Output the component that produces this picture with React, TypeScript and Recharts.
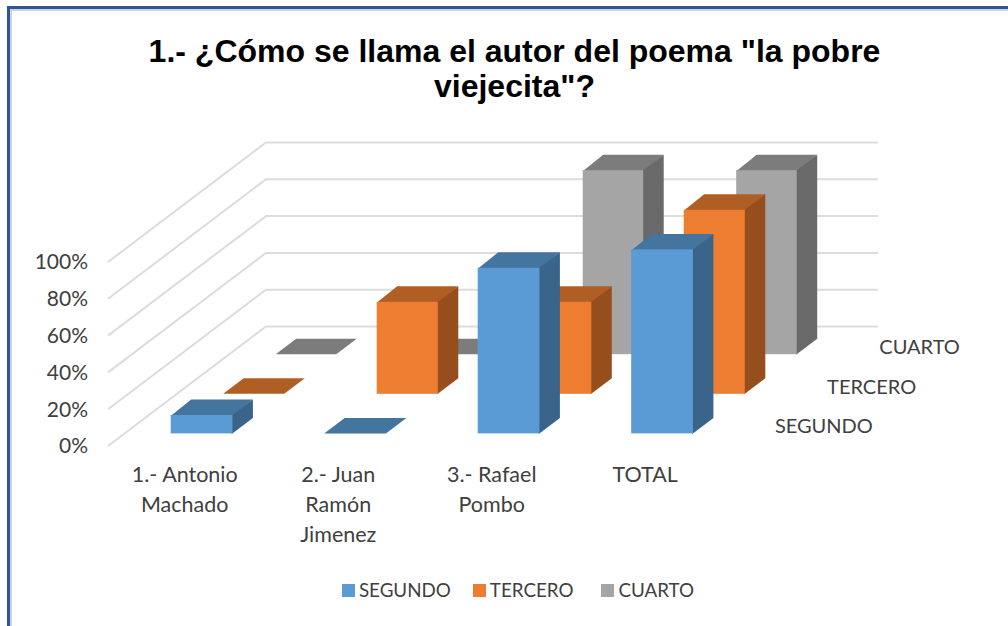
import React from "react";
import { BarChart, Bar, XAxis, YAxis, CartesianGrid, Legend } from "recharts";

const categories = ["1.- Antonio Machado", "2.- Juan Ramón Jimenez", "3.- Rafael Pombo", "TOTAL"];
const categoryLines = [["1.- Antonio", "Machado"], ["2.- Juan", "Ramón", "Jimenez"], ["3.- Rafael", "Pombo"], ["TOTAL"]];
const segundo = [10, 0, 90, 100];
const tercero = [0, 50, 50, 100];
const cuarto = [0, 0, 100, 100];
const percentTicks = [0, 20, 40, 60, 80, 100];
const seriesOrder = ["SEGUNDO", "TERCERO", "CUARTO"];
const titleLines = ['1.- ¿Cómo se llama el autor del poema "la pobre', 'viejecita"?'];

const rows = categories.map((name, i) => ({
  name,
  SEGUNDO: segundo[i],
  TERCERO: tercero[i],
  CUARTO: cuarto[i],
}));

const FONT = "Lato, 'Open Sans', sans-serif";
const TEXT = "#404040";
const STEP_X = 52.5;
const STEP_Y = 39.6;
const START_X = 16.7;
const START_Y = 12.6;
const CAP_X = 20.5;
const CAP_Y = 15.5;
const NARROW = 0.6;
const WALL_X = 158;
const WALL_Y = 119.5;
const WALL_RIGHT = 878;

const palette = {
  SEGUNDO: { front: "#5B9BD5", top: "#44759F", side: "#3A6489" },
  TERCERO: { front: "#ED7D31", top: "#B15E25", side: "#964F1C" },
  CUARTO: { front: "#A5A5A5", top: "#7C7C7C", side: "#696969" },
};

const pts = (list: number[][]) => list.map((p) => p.join(",")).join(" ");

function cuboid(depth: number, name: string) {
  const c = palette[name];
  return function Cuboid(props: any) {
    const dx = START_X + depth * STEP_X;
    const dy = START_Y + depth * STEP_Y;
    const x = props.x + dx;
    const w = props.width - depth * NARROW;
    const top = props.y - dy;
    const bottom = props.y + props.height - dy;
    const solid = props.height > 0;
    const last = props.index === categories.length - 1;
    const under = solid ? 1 : 0;
    return (
      <g>
        <polygon
          points={pts([[x, top + under], [x + CAP_X, top - CAP_Y], [x + w + CAP_X, top - CAP_Y], [x + w, top + under]])}
          fill={c.top}
        />
        {solid && (
          <polygon
            points={pts([[x + w - 1, top], [x + w, top], [x + w + CAP_X, top - CAP_Y], [x + w + CAP_X, bottom - CAP_Y], [x + w, bottom], [x + w - 1, bottom]])}
            fill={c.side}
          />
        )}
        {solid && <rect x={x} y={top} width={w} height={bottom - top} fill={c.front} />}
        {last && (
          <text x={props.x + START_X + depth * 52.2 + 127 + 16.7} y={bottom} fontFamily={FONT} fontSize={20} fill={TEXT}>
            {name}
          </text>
        )}
      </g>
    );
  };
}

const wallLine = (p: any) => (
  <polyline
    key={p.key ?? p.index ?? p.y1}
    points={pts([[p.x1, p.y1], [p.x1 + WALL_X, p.y1 - WALL_Y], [WALL_RIGHT, p.y1 - WALL_Y]])}
    fill="none"
    stroke="#DCDCDC"
    strokeWidth={2}
  />
);

const CategoryTick = (p: any) => (
  <text x={p.x} y={p.y + 28} textAnchor="middle" fontFamily={FONT} fontSize={21.5} fill={TEXT}>
    {categoryLines[p.index].map((line, i) => (
      <tspan key={line} x={p.x} dy={i === 0 ? 0 : 30}>
        {line}
      </tspan>
    ))}
  </text>
);

export default function App() {
  return (
    <div style={{ position: "absolute", left: 0, top: 0, width: 1008, height: 626, background: "#fff", overflow: "hidden" }}>
      <div style={{ position: "absolute", left: 7, top: 6, width: 1001, height: 620, boxSizing: "border-box", borderLeft: "3px solid #2F5597", borderTop: "3px solid #2F5597" }} />
      <div style={{ position: "absolute", left: 10, top: 9, width: 998, height: 617, boxSizing: "border-box", borderLeft: "2px solid #CDD2DA", borderTop: "2px solid #CDD2DA" }} />
      <div
        style={{
          position: "absolute",
          left: 0,
          width: 1029,
          top: 34,
          textAlign: "center",
          fontFamily: "'Liberation Sans', Arial, sans-serif",
          fontWeight: 700,
          fontSize: 32,
          lineHeight: "35px",
          color: "#000",
        }}
      >
        {titleLines.map((t) => (
          <div key={t}>{t}</div>
        ))}
      </div>
      <BarChart
        width={1008}
        height={626}
        data={rows}
        margin={{ top: 262, right: 286, bottom: 10, left: 28 }}
        style={{ position: "absolute", left: 0, top: 0 }}
      >
        <CartesianGrid vertical={false} horizontal={wallLine} />
        <XAxis dataKey="name" axisLine={false} tickLine={false} height={130} interval={0} tick={CategoryTick} />
        <XAxis xAxisId="tercero" dataKey="name" hide />
        <XAxis xAxisId="cuarto" dataKey="name" hide />
        <YAxis
          width={80}
          domain={[0, 100]}
          ticks={percentTicks}
          tickFormatter={(v) => `${v}%`}
          axisLine={false}
          tickLine={false}
          tickMargin={14}
          tick={{ fontFamily: FONT, fontSize: 21, fill: TEXT }}
        />
        <Bar xAxisId="cuarto" dataKey="CUARTO" fill={palette.CUARTO.front} barSize={61.7} shape={cuboid(2, "CUARTO")} isAnimationActive={false} />
        <Bar xAxisId="tercero" dataKey="TERCERO" fill={palette.TERCERO.front} barSize={61.7} shape={cuboid(1, "TERCERO")} isAnimationActive={false} />
        <Bar dataKey="SEGUNDO" fill={palette.SEGUNDO.front} barSize={61.7} shape={cuboid(0, "SEGUNDO")} isAnimationActive={false} />
        <Legend
          height={40}
          iconType="square"
          iconSize={13}
          wrapperStyle={{ left: 0, width: 1058, bottom: 11 }}
          itemSorter={(item: any) => seriesOrder.indexOf(item.value)}
          formatter={(v) => (
            <span style={{ color: TEXT, fontFamily: FONT, fontSize: 18.8, position: "relative", top: 3, marginRight: v === "TERCERO" ? 18 : 12 }}>{v}</span>
          )}
        />
      </BarChart>
    </div>
  );
}
